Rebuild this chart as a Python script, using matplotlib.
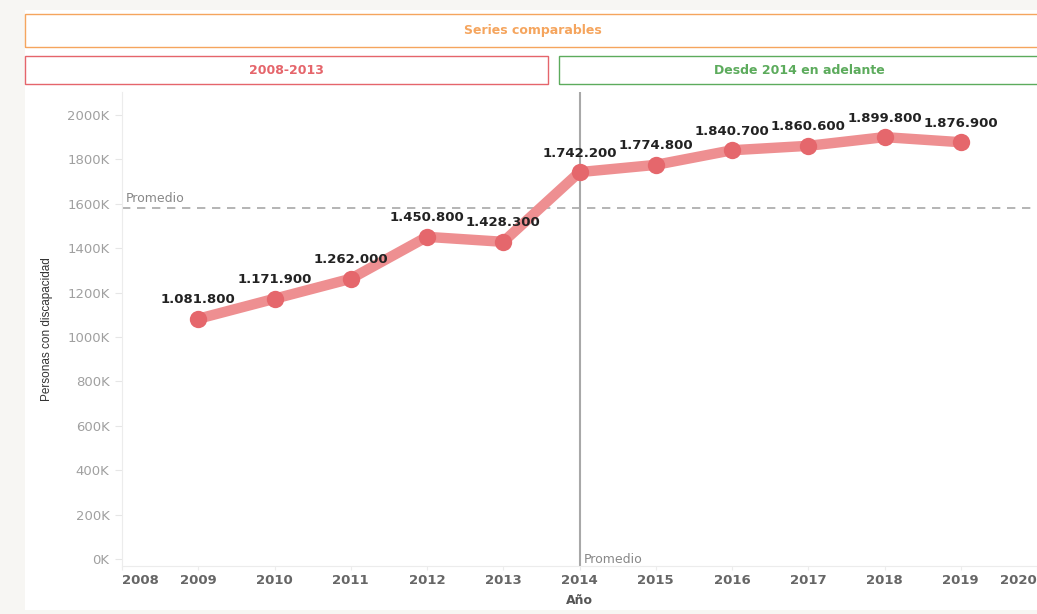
import numpy as np
import matplotlib.pyplot as plt
from matplotlib.patches import Rectangle

# Data ########################################################################

years = [2009, 2010, 2011, 2012, 2013, 2014, 2015, 2016, 2017, 2018, 2019]
personas = [1081800, 1171900, 1262000, 1450800, 1428300, 1742200,
            1774800, 1840700, 1860600, 1899800, 1876900]
tick_years = list(range(2008, 2021))
y_ticks = [0, 200000, 400000, 600000, 800000, 1000000, 1200000,
           1400000, 1600000, 1800000, 2000000]

# Plot ########################################################################

fig = plt.figure(figsize=(10.37, 6.14), dpi=100, facecolor='#f7f6f3')
# white dashboard panel
fig.patches.append(Rectangle((25/1037, 0.006), 1.0, 1 - 10/614 - 0.006,
                             transform=fig.transFigure, facecolor='white',
                             edgecolor='none', zorder=-5))

# header boxes
def header(x0, x1, y0, y1, text, color):
    W, H = 1037, 614
    fig.patches.append(Rectangle((x0/W, 1 - y1/H), (x1 - x0)/W, (y1 - y0)/H,
                                 transform=fig.transFigure, facecolor='none',
                                 edgecolor=color, linewidth=1.0, zorder=1))
    fig.text((x0 + x1)/2/W, 1 - (y0 + y1)/2/H, text, color=color,
             ha='center', va='center', fontsize=9, fontweight='bold')

header(25, 1040, 14, 47, 'Series comparables', '#f5a55e')
header(25, 548, 56, 84, '2008-2013', '#e5656b')
header(559, 1040, 56, 84, 'Desde 2014 en adelante', '#5cab5c')

ax = fig.add_axes([122/1037, 1 - 566/614, 1 - 122/1037, (566 - 92)/614])
ax.set_zorder(2)
ax.patch.set_alpha(0)
ax.set_xlim(2008, 2020)
ax.set_ylim(-31500, 2103000)

x = np.array(years)
y = np.array(personas)
ax.plot(x, y, color='#ee8f91', linewidth=7.5, solid_capstyle='round', zorder=3)
ax.plot(x, y, 'o', color='#e5676c', markersize=12.5, markeredgewidth=0, zorder=4)

for xi, yi in zip(x, y):
    lab = f'{yi:,}'.replace(',', '.')
    ax.annotate(lab, (xi, yi), xytext=(0, 9), textcoords='offset points',
                ha='center', va='bottom', fontsize=9.5, fontweight='bold',
                color='#222222', zorder=5)

# average reference lines
avg_y = np.mean(personas)
avg_x = np.mean(years)
ax.axhline(avg_y, color='#a8a8a8', linestyle=(0, (5, 4)), linewidth=1.2, zorder=2)
ax.axvline(avg_x, color='#a8a8a8', linewidth=1.5, zorder=2)
ax.text(2008.05, avg_y + 12000, 'Promedio', color='#888888', fontsize=9,
        ha='left', va='bottom')
ax.text(avg_x + 0.06, 0, 'Promedio', color='#888888', fontsize=9,
        ha='left', va='center')

ax.set_yticks(y_ticks)
ax.set_yticklabels([f'{v // 1000}K' for v in y_ticks])
ax.set_xticks(tick_years)
ax.set_xticklabels([str(t) for t in tick_years])
labels = ax.get_xticklabels()
labels[0].set_ha('left')
labels[-1].set_ha('right')

ax.tick_params(axis='y', colors='#e6e6e6', labelcolor='#a0a0a0', labelsize=9.5,
               length=5, pad=4)
ax.tick_params(axis='x', colors='#ececec', labelcolor='#666666', labelsize=9.5,
               length=3, pad=3)
for lab in ax.get_xticklabels():
    lab.set_fontweight('bold')

for side in ['top', 'right']:
    ax.spines[side].set_visible(False)
ax.spines['left'].set_color('#ececec')
ax.spines['bottom'].set_color('#ececec')

ax.set_xlabel('Año', fontsize=9, fontweight='bold', color='#555555', labelpad=5)
ax.set_ylabel('Personas con discapacidad', fontsize=8.5, color='#333333',
              family=['Liberation Sans Narrow', 'Liberation Sans'],
              labelpad=10)

plt.savefig('out.png', dpi=100, facecolor=fig.get_facecolor())
